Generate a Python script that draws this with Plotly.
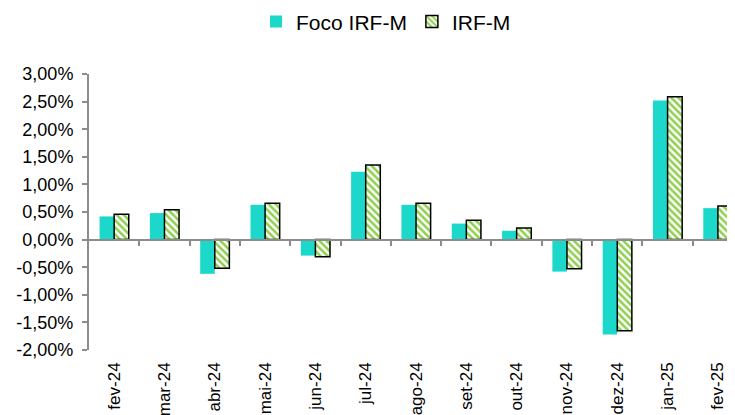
import plotly.graph_objects as go

categories = ["fev-24", "mar-24", "abr-24", "mai-24", "jun-24", "jul-24", "ago-24",
              "set-24", "out-24", "nov-24", "dez-24", "jan-25", "fev-25"]
foco_irfm = [0.42, 0.48, -0.62, 0.63, -0.29, 1.23, 0.63, 0.29, 0.16, -0.58, -1.72, 2.52, 0.57]
irfm = [0.46, 0.54, -0.52, 0.66, -0.31, 1.35, 0.66, 0.35, 0.21, -0.53, -1.65, 2.59, 0.61]

y_ticks = [3.0, 2.5, 2.0, 1.5, 1.0, 0.5, 0.0, -0.5, -1.0, -1.5, -2.0]
y_ticktext = [f"{v:.2f}".replace(".", ",") + "%" for v in y_ticks]

x_pos = list(range(len(categories)))
boundaries = [i + 0.5 for i in range(len(categories))]

FONT = "Liberation Sans, Arial, sans-serif"
AXIS = "#8c8c8c"

fig = go.Figure()
fig.add_trace(go.Bar(
    x=x_pos, y=foco_irfm, name="Foco IRF-M",
    marker=dict(color="#1BD8CA", line=dict(width=0)),
))
fig.add_trace(go.Bar(
    x=x_pos, y=irfm, name="IRF-M",
    marker=dict(color="white", line=dict(color="black", width=1.5),
                pattern=dict(shape="\\", fgcolor="#8ED04E", bgcolor="white",
                             fillmode="overlay", fgopacity=1, size=5, solidity=0.5)),
))
# invisible trace for the zero-line axis with boundary ticks
fig.add_trace(go.Scatter(x=[0], y=[0], xaxis="x2", mode="markers",
                         marker=dict(opacity=0), showlegend=False, hoverinfo="skip"))

xr = [-0.5, 12.34]
fig.update_layout(
    width=727, height=407,
    margin=dict(l=81, r=0, t=66, b=65, autoexpand=False),
    paper_bgcolor="white", plot_bgcolor="white",
    font=dict(family=FONT, size=17, color="black"),
    barmode="group", bargap=0.42, bargroupgap=0.0,
    showlegend=True,
    legend=dict(orientation="h", xref="container", yref="container",
                x=0.52, xanchor="center", y=0.966, yanchor="middle",
                font=dict(size=21), itemwidth=30, traceorder="normal"),
    xaxis=dict(range=xr, tickmode="array", tickvals=x_pos, ticktext=categories,
               tickangle=-90, showline=False, ticks="", showgrid=False,
               zeroline=False, tickfont=dict(size=17), automargin=False,
               ticklabelstandoff=8),
    xaxis2=dict(range=xr, overlaying="x", anchor="free", position=0.4,
                tickmode="array", tickvals=boundaries, ticks="outside", ticklen=5,
                tickcolor=AXIS, tickwidth=1.5, showticklabels=False,
                showline=True, linecolor=AXIS, linewidth=2, showgrid=False,
                zeroline=False, automargin=False),
    yaxis=dict(range=[-2.0, 3.0], tickmode="array", tickvals=y_ticks,
               ticktext=y_ticktext, ticks="outside", ticklen=5, tickcolor=AXIS,
               tickwidth=1.5, showline=True, linecolor=AXIS, linewidth=2,
               showgrid=False, zeroline=False, tickfont=dict(size=18),
               automargin=False, ticklabelstandoff=5),
)

fig.write_html("out.html")
